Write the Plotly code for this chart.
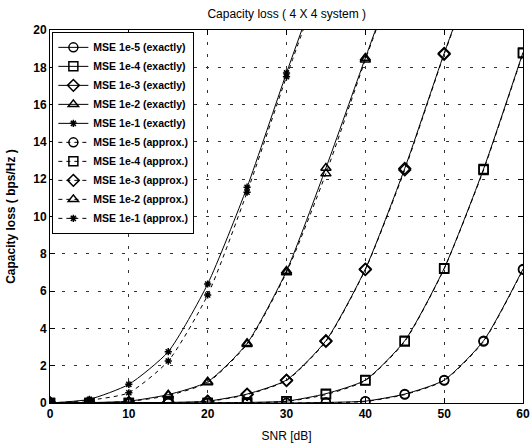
import plotly.graph_objects as go

# SNR grid (dB), markers every 5 dB
snr = [0, 5, 10, 15, 20, 25, 30, 35, 40, 45, 50, 55, 60]

# capacity loss (bps/Hz), exact curves
loss_1e5_exact = [0, 0, 0, 0, 0, 0, 0, 0.03, 0.1, 0.48, 1.23, 3.34, 7.18]
loss_1e4_exact = [0, 0, 0, 0, 0, 0.03, 0.1, 0.5, 1.23, 3.34, 7.22, 12.55, 18.8]
loss_1e3_exact = [0, 0, 0.02, 0.03, 0.1, 0.48, 1.23, 3.34, 7.18, 12.58, 18.75, 24.5, None]
loss_1e2_exact = [0, 0.02, 0.1, 0.45, 1.14, 3.2, 7.08, 12.6, 18.5, 24.3, None, None, None]
loss_1e1_exact = [0, 0.2, 1.0, 2.75, 6.38, 11.57, 17.7, 23.6, None, None, None, None, None]

# capacity loss (bps/Hz), approximations
loss_1e5_approx = [0, 0, 0, 0, 0, 0, 0, 0.02, 0.08, 0.45, 1.2, 3.3, 7.15]
loss_1e4_approx = [0, 0, 0, 0, 0, 0.02, 0.08, 0.45, 1.2, 3.3, 7.2, 12.5, 18.75]
loss_1e3_approx = [0, 0, 0.01, 0.02, 0.08, 0.45, 1.2, 3.3, 7.15, 12.5, 18.7, 24.4, None]
loss_1e2_approx = [0, 0.01, 0.08, 0.4, 1.1, 3.15, 7.0, 12.3, 18.4, 24.2, None, None, None]
loss_1e1_approx = [0, 0.15, 0.55, 2.25, 5.79, 11.3, 17.5, 23.4, None, None, None, None, None]

series = [
    ("MSE 1e-5 (exactly)", loss_1e5_exact, "circle-open", "solid", 9),
    ("MSE 1e-4 (exactly)", loss_1e4_exact, "square-open", "solid", 9),
    ("MSE 1e-3 (exactly)", loss_1e3_exact, "diamond-open", "solid", 9),
    ("MSE 1e-2 (exactly)", loss_1e2_exact, "triangle-up-open", "solid", 9),
    ("MSE 1e-1 (exactly)", loss_1e1_exact, "asterisk-open", "solid", 6),
    ("MSE 1e-5 (approx.)", loss_1e5_approx, "circle-open", "4px,4px", 9),
    ("MSE 1e-4 (approx.)", loss_1e4_approx, "square-open", "4px,4px", 9),
    ("MSE 1e-3 (approx.)", loss_1e3_approx, "diamond-open", "4px,4px", 9),
    ("MSE 1e-2 (approx.)", loss_1e2_approx, "triangle-up-open", "4px,4px", 9),
    ("MSE 1e-1 (approx.)", loss_1e1_approx, "asterisk-open", "4px,4px", 6),
]

fig = go.Figure()
for name, vals, sym, dash, msize in series:
    fig.add_trace(go.Scatter(
        x=snr,
        y=vals,
        mode="lines+markers",
        name=name,
        line=dict(color="black", width=1, dash=dash, shape="spline", smoothing=0.6),
        marker=dict(symbol=sym, size=msize, color="black", line=dict(color="black", width=1.5)),
        connectgaps=False,
    ))

axis_common = dict(
    showline=True, linecolor="black", linewidth=1, mirror="ticks",
    ticks="inside", ticklen=5, tickcolor="black",
    showgrid=True, gridcolor="#333333", gridwidth=1, griddash="3px,9px",
    zeroline=False, automargin=False,
    tickfont=dict(family="Liberation Sans", size=12, color="black", weight="bold"),
)

fig.update_xaxes(range=[0, 60], dtick=10,
                 title=dict(text="SNR [dB]",
                            font=dict(family="Liberation Sans", size=12, color="black")),
                 **axis_common)
fig.update_yaxes(range=[0, 20], dtick=2,
                 title=dict(text="Capacity loss ( bps/Hz )",
                            font=dict(family="Liberation Sans", size=12, color="black", weight="bold")),
                 **axis_common)

fig.update_layout(
    width=531, height=443,
    margin=dict(l=50, r=8, t=30, b=40),
    paper_bgcolor="white", plot_bgcolor="white",
    title=dict(text="Capacity loss ( 4 X 4 system )", x=0.54, xanchor="center",
               y=0.968, yanchor="middle", automargin=False,
               font=dict(family="Liberation Sans", size=12, color="black")),
    legend=dict(x=0.005, y=0.995, xanchor="left", yanchor="top",
                bgcolor="white", bordercolor="black", borderwidth=1,
                font=dict(family="Liberation Sans", size=10.5, color="black", weight="bold"),
                tracegroupgap=0, itemwidth=30),
    showlegend=True,
)

# drop the default page margin so the figure sits at the window's corner
fig.write_html("out.html", config={"displayModeBar": False},
               post_script="document.body.style.margin='0';")
